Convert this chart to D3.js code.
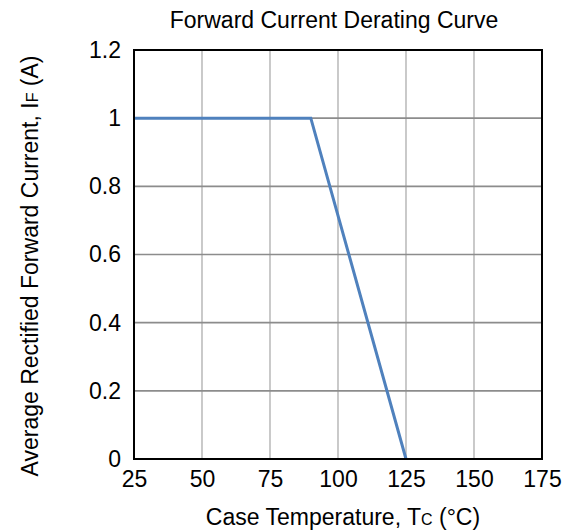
<!DOCTYPE html>
<html><head><meta charset="utf-8">
<script src="https://cdn.jsdelivr.net/npm/d3@7"></script>
<style>body{margin:0;background:#fff}svg{display:block}text{font-family:Arial,"Liberation Sans",sans-serif;fill:#000}</style>
</head><body><svg id="c" width="566" height="531"></svg>
<script>
const temps = [25, 90, 125];
const currents = [1, 1, 0];
const xTicks = [25, 50, 75, 100, 125, 150, 175];
const yTicks = [0, 0.2, 0.4, 0.6, 0.8, 1, 1.2];
const title = "Forward Current Derating Curve";

const svg = d3.select("#c");
const L = 134, R = 542, T = 50, B = 459;
const x = d3.scaleLinear().domain([25, 175]).range([L, R]);
const y = d3.scaleLinear().domain([0, 1.2]).range([B, T]);

// grid
svg.append("g").selectAll("line").data(xTicks.slice(1, -1)).join("line")
  .attr("x1", d => x(d)).attr("x2", d => x(d)).attr("y1", T).attr("y2", B)
  .attr("stroke", "#a6a6a6").attr("stroke-width", 1.2);
svg.append("g").selectAll("line").data(yTicks.slice(1, -1)).join("line")
  .attr("x1", L).attr("x2", R).attr("y1", d => y(d)).attr("y2", d => y(d))
  .attr("stroke", "#8c8c8c").attr("stroke-width", 1.6);

// axes (labels only)
const xa = svg.append("g").attr("transform", `translate(0,${B})`)
  .call(d3.axisBottom(x).tickValues(xTicks).tickSize(0).tickPadding(12).tickFormat(d3.format("d")));
const ya = svg.append("g").attr("transform", `translate(${L},0)`)
  .call(d3.axisLeft(y).tickValues(yTicks).tickSize(0).tickPadding(13).tickFormat(d => d === 0 || d === 1 ? d3.format("d")(d) : d3.format(".1f")(d)));
[xa, ya].forEach(a => { a.select(".domain").remove(); a.selectAll("text").attr("font-size", 23).attr("font-family", "Arial, 'Liberation Sans', sans-serif").attr("fill", "#000"); });

// curve
svg.append("path").datum(temps.map((t, i) => [t, currents[i]]))
  .attr("d", d3.line().x(d => x(d[0])).y(d => y(d[1])))
  .attr("fill", "none").attr("stroke", "#4f81bd").attr("stroke-width", 3);

// border
svg.append("rect").attr("x", L).attr("y", T).attr("width", R - L).attr("height", B - T)
  .attr("fill", "none").attr("stroke", "#000").attr("stroke-width", 2);

// titles
svg.append("text").attr("x", 334).attr("y", 28).attr("text-anchor", "middle").attr("font-size", 23).text(title);
const xl = svg.append("text").attr("x", 343).attr("y", 525).attr("text-anchor", "middle").attr("font-size", 23);
xl.append("tspan").text("Case Temperature, T");
xl.append("tspan").attr("font-size", 16).text("C");
xl.append("tspan").text(" (°C)");
const yl = svg.append("text").attr("transform", "translate(38,266) rotate(-90)").attr("text-anchor", "middle").attr("font-size", 23);
yl.append("tspan").text("Average Rectified Forward Current, I");
yl.append("tspan").attr("font-size", 16).text("F");
yl.append("tspan").text(" (A)");
</script></body></html>
